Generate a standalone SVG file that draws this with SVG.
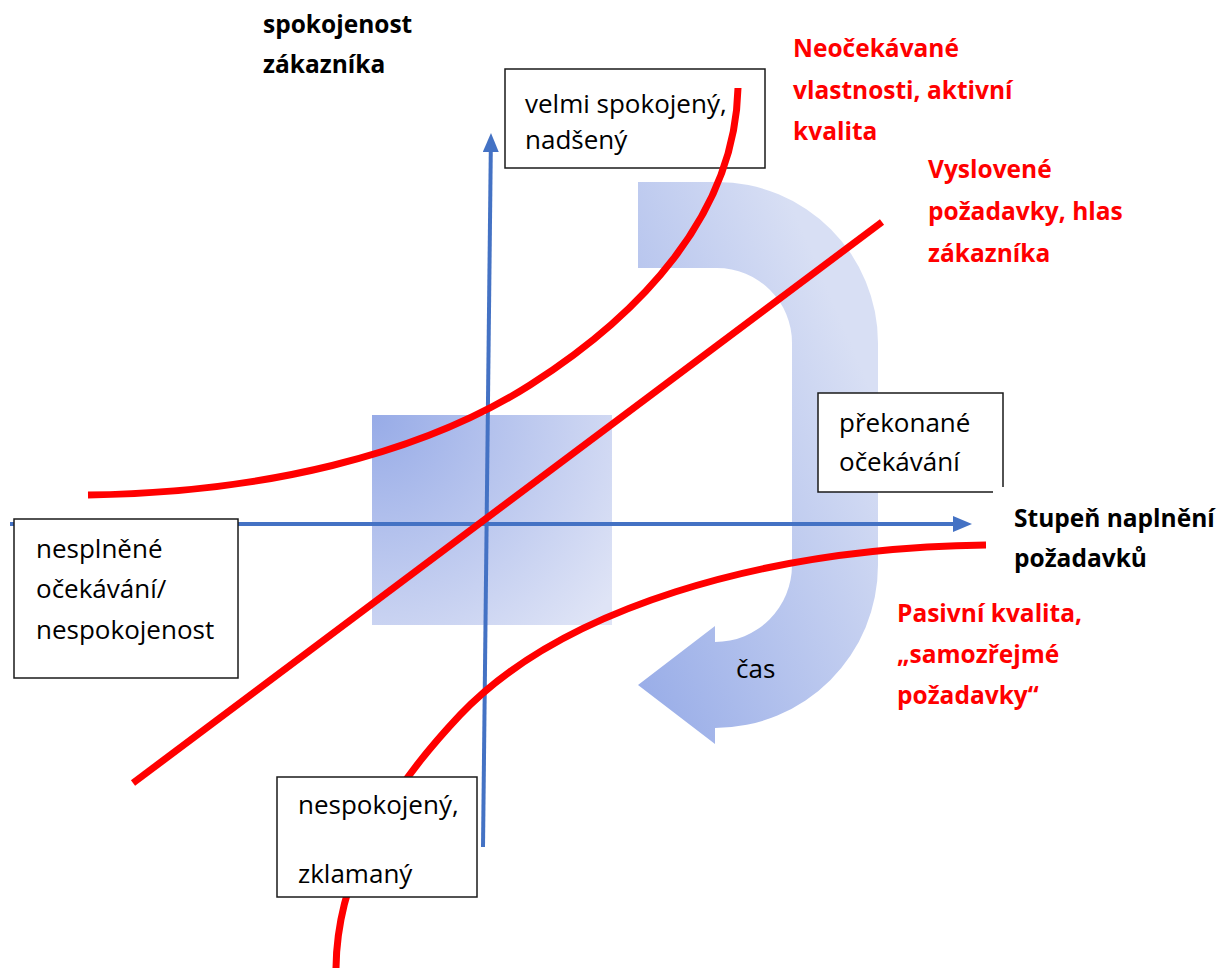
<svg xmlns="http://www.w3.org/2000/svg" width="1232" height="969" viewBox="0 0 1232 969">
  <style>
    .box { fill: #ffffff; stroke: #1a1a1a; stroke-width: 1.5; }
    .edge { fill: none; stroke: #1a1a1a; stroke-width: 1.5; }
    .t { font-family: "Open Sans", "Noto Sans", "DejaVu Sans", sans-serif; font-size: 26px; fill: #000000; }
    .b { font-family: "Open Sans", "Noto Sans", "DejaVu Sans", sans-serif; font-size: 24.5px; font-weight: bold; fill: #000000; }
    .r { font-family: "Open Sans", "Noto Sans", "DejaVu Sans", sans-serif; font-size: 24.5px; font-weight: bold; fill: #ff0000; }
    .axis { stroke: #4472c4; stroke-width: 4; fill: none; }
    .red { stroke: #ff0000; stroke-width: 7; fill: none; }
  </style>
  <defs>
    <marker id="arrow" markerUnits="userSpaceOnUse" markerWidth="20" markerHeight="16" refX="2" refY="8" orient="auto">
      <path d="M0,0 L19,8 L0,16 z" fill="#4472c4"/>
    </marker>
    <linearGradient id="gArrow" gradientUnits="userSpaceOnUse" x1="640" y1="685" x2="942" y2="556">
      <stop offset="0" stop-color="#9aaee8"/>
      <stop offset="1" stop-color="#d8dff4"/>
    </linearGradient>
    <radialGradient id="gSquare" gradientUnits="userSpaceOnUse" cx="372" cy="415" r="300">
      <stop offset="0" stop-color="#97abe7"/>
      <stop offset="1" stop-color="#dfe4f6"/>
    </radialGradient>
  </defs>

  <g id="center-square">
    <rect x="372" y="415" width="240" height="210" fill="url(#gSquare)"/>
  </g>

  <g id="time-arrow">
    <path d="M638,182 L717,182 A161,161 0 0 1 878,343 L878,565 A163,163 0 0 1 715,728 L715,744 L638,685 L715,626 L715,642 A77,77 0 0 0 792,565 L792,343 A75,75 0 0 0 717,268 L638,268 Z" fill="url(#gArrow)"/>
    <text class="t" x="736" y="678">čas</text>
  </g>

  <g id="connectors">
    <line class="axis" x1="10" y1="524" x2="955" y2="524" marker-end="url(#arrow)"/>
    <line class="axis" x1="483" y1="847" x2="490.8" y2="150" marker-end="url(#arrow)"/>
  </g>

  <g id="curve-passive">
    <path class="red" d="M986,545 C760,548 560,610 460,715 C380,800 337,880 336,968"/>
  </g>
  <g id="line-spoken">
    <line class="red" x1="133" y1="783" x2="882" y2="222"/>
  </g>

  <g id="box-unfulfilled">
    <rect class="box" x="14" y="519" width="224" height="159"/>
    <text class="t" x="36" y="558">nesplněné</text>
    <text class="t" x="36" y="598">očekávání/</text>
    <text class="t" x="36" y="639">nespokojenost</text>
  </g>

  <g id="box-dissatisfied">
    <rect class="box" x="277" y="777" width="200" height="120"/>
    <text class="t" x="298" y="814">nespokojený,</text>
    <text class="t" x="298" y="883">zklamaný</text>
  </g>

  <g id="box-exceeded">
    <rect x="818" y="393" width="185" height="99" fill="#ffffff"/>
    <path class="edge" d="M993,492 H818 V393 H1003 V487"/>
    <text class="t" x="839" y="432">překonané</text>
    <text class="t" x="839" y="471">očekávání</text>
  </g>

  <g id="box-delighted">
    <rect class="box" x="505" y="69" width="260" height="99"/>
    <text class="t" x="525" y="113">velmi spokojený,</text>
    <text class="t" x="525" y="149">nadšený</text>
  </g>

  <g id="curve-unexpected">
    <path class="red" d="M88,495 C260,493 420,455 530,385 C640,315 735,215 738,88"/>
  </g>

  <g id="label-y-axis">
    <text class="b" x="263" y="33">spokojenost</text>
    <text class="b" x="263" y="73">zákazníka</text>
  </g>
  <g id="label-x-axis">
    <text class="b" x="1014" y="527">Stupeň naplnění</text>
    <text class="b" x="1014" y="567">požadavků</text>
  </g>
  <g id="label-unexpected">
    <text class="r" x="793" y="57">Neočekávané</text>
    <text class="r" x="793" y="99">vlastnosti, aktivní</text>
    <text class="r" x="793" y="140">kvalita</text>
  </g>
  <g id="label-spoken">
    <text class="r" x="928" y="178">Vyslovené</text>
    <text class="r" x="928" y="220">požadavky, hlas</text>
    <text class="r" x="928" y="262">zákazníka</text>
  </g>
  <g id="label-passive">
    <text class="r" x="897" y="622">Pasivní kvalita,</text>
    <text class="r" x="897" y="663">„samozřejmé</text>
    <text class="r" x="897" y="704">požadavky“</text>
  </g>
</svg>
